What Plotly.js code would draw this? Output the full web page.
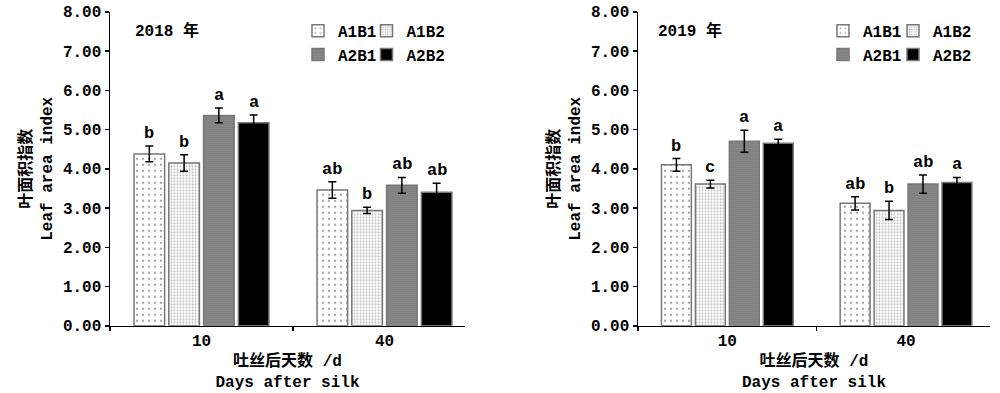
<!DOCTYPE html>
<html>
<head>
<meta charset="utf-8">
<script src="https://cdn.plot.ly/plotly-3.0.1.min.js"></script>
<style>html,body{margin:0;padding:0;background:#fff;}#chart{width:1000px;height:393px;}</style>
</head>
<body>
<div id="chart"></div>
<script>
const categories = ["10", "40"];
const seriesNames = ["A1B1", "A1B2", "A2B1", "A2B2"];

const vals2018 = {
  A1B1: [4.38, 3.46],
  A1B2: [4.15, 2.94],
  A2B1: [5.36, 3.58],
  A2B2: [5.17, 3.40]
};
const errs2018 = {
  A1B1: [0.20, 0.21],
  A1B2: [0.21, 0.08],
  A2B1: [0.19, 0.20],
  A2B2: [0.20, 0.23]
};
const letters2018 = {
  A1B1: ["b", "ab"],
  A1B2: ["b", "b"],
  A2B1: ["a", "ab"],
  A2B2: ["a", "ab"]
};

const vals2019 = {
  A1B1: [4.10, 3.12],
  A1B2: [3.61, 2.94],
  A2B1: [4.70, 3.61],
  A2B2: [4.65, 3.65]
};
const errs2019 = {
  A1B1: [0.16, 0.17],
  A1B2: [0.10, 0.23],
  A2B1: [0.28, 0.23],
  A2B2: [0.10, 0.13]
};
const letters2019 = {
  A1B1: ["b", "ab"],
  A1B2: ["c", "b"],
  A2B1: ["a", "ab"],
  A2B2: ["a", "a"]
};

const yTickVals = [0, 1, 2, 3, 4, 5, 6, 7, 8];
const yTickText = ["0.00", "1.00", "2.00", "3.00", "4.00", "5.00", "6.00", "7.00", "8.00"];

const FONT = "'Liberation Mono', 'Noto Sans CJK SC', monospace";
const BOLD = (t) => "<b>" + t + "</b>";

// column of the 2x2 legend each series sits in
const styles = {
  A1B1: {color: "#ffffff", col: 0, pattern: {shape: ".", size: 6, solidity: 0.12, fgcolor: "#555555", bgcolor: "#ffffff", fillmode: "overlay"}},
  A1B2: {color: "#ffffff", col: 1, pattern: {shape: ".", size: 3, solidity: 0.35, fgcolor: "#777777", bgcolor: "#ffffff", fillmode: "overlay"}},
  A2B1: {color: "#ffffff", col: 0, pattern: {shape: ".", size: 2, solidity: 0.6, fgcolor: "#111111", bgcolor: "#aaaaaa", fillmode: "overlay"}},
  A2B2: {color: "#000000", col: 1}
};

const BARGAP = 0.24;
const traces = [];
const annotations = [];

function addYear(vals, errs, letters, xa, ya, legs) {
  seriesNames.forEach((s, k) => {
    const st = styles[s];
    const marker = {color: st.color, line: {color: "#777777", width: 1.5}};
    if (st.pattern) marker.pattern = st.pattern;
    traces.push({
      type: "bar",
      name: s,
      x: categories,
      y: vals[s],
      xaxis: xa,
      yaxis: ya,
      legend: legs[st.col],
      marker: marker,
      error_y: {type: "data", array: errs[s], visible: true, color: "#000000", thickness: 1.5, width: 4},
      hoverinfo: "skip"
    });
    const slot = (1 - BARGAP) / seriesNames.length;
    categories.forEach((c, i) => {
      annotations.push({
        xref: xa, yref: ya,
        x: i - (1 - BARGAP) / 2 + slot * (k + 0.5),
        y: vals[s][i] + errs[s][i],
        text: BOLD(letters[s][i]),
        showarrow: false,
        yanchor: "bottom",
        yshift: 1,
        font: {family: FONT, size: 17, color: "#000"}
      });
    });
  });
}

addYear(vals2018, errs2018, letters2018, "x", "y", ["legend", "legend3"]);
addYear(vals2019, errs2019, letters2019, "x2", "y2", ["legend2", "legend4"]);

annotations.push({xref: "paper", yref: "paper", x: 0.133, y: 0.921, xanchor: "left", yanchor: "middle",
  text: BOLD("2018 年"), showarrow: false, font: {family: FONT, size: 16, color: "#000"}});
annotations.push({xref: "paper", yref: "paper", x: 0.656, y: 0.921, xanchor: "left", yanchor: "middle",
  text: BOLD("2019 年"), showarrow: false, font: {family: FONT, size: 16, color: "#000"}});

function xaxis(domain, range) {
  return {
    domain: domain, type: "category", range: range,
    showline: true, linecolor: "#000", linewidth: 1.5,
    ticks: "outside", tickson: "boundaries", ticklen: 4, tickcolor: "#000", tickwidth: 1.5,
    showgrid: false, zeroline: false,
    tickfont: {family: FONT, size: 16, color: "#000", weight: "bold"},
    title: {text: BOLD("吐丝后天数 /d") + "<br>" + BOLD("Days after silk"), font: {family: FONT, size: 16, color: "#000"}, standoff: 4},
    automargin: false, fixedrange: true
  };
}
function yaxis(anchor) {
  return {
    domain: [0.171, 0.970], range: [0, 8], anchor: anchor,
    tickvals: yTickVals, ticktext: yTickText.map(BOLD),
    showline: true, linecolor: "#000", linewidth: 1.5,
    ticks: "outside", ticklen: 4, tickcolor: "#000", tickwidth: 1.5,
    showgrid: false, zeroline: false,
    tickfont: {family: FONT, size: 16, color: "#000"},
    title: {text: BOLD("叶面积指数") + "<br>" + BOLD("Leaf area index"), font: {family: FONT, size: 16, color: "#000"}, standoff: 6},
    automargin: false, fixedrange: true
  };
}

const xa1 = xaxis([0.110, 0.465], [-0.5, 1.44]);
xa1.anchor = "y";
const xa2 = xaxis([0.638, 0.990], [-0.5, 1.47]);
xa2.anchor = "y2";

const legendBase = {
  orientation: "v", xanchor: "left", yanchor: "top",
  font: {family: FONT, size: 16, color: "#000", weight: "bold"},
  bgcolor: "rgba(0,0,0,0)", borderwidth: 0,
  tracegroupgap: 0, itemwidth: 30
};

const layout = {
  width: 1000, height: 393,
  margin: {l: 0, r: 0, t: 0, b: 0},
  paper_bgcolor: "#fff", plot_bgcolor: "rgba(0,0,0,0)",
  barmode: "group", bargap: BARGAP, bargroupgap: 0.12,
  showlegend: true,
  xaxis: xa1, yaxis: yaxis("x"),
  xaxis2: xa2, yaxis2: yaxis("x2"),
  legend: Object.assign({}, legendBase, {x: 0.298, y: 0.965}),
  legend3: Object.assign({}, legendBase, {x: 0.3665, y: 0.965}),
  legend2: Object.assign({}, legendBase, {x: 0.823, y: 0.965}),
  legend4: Object.assign({}, legendBase, {x: 0.893, y: 0.965}),
  annotations: annotations,
  font: {family: FONT, size: 16, color: "#000"}
};

Plotly.newPlot("chart", traces, layout, {displayModeBar: false, staticPlot: true});
</script>
</body>
</html>
